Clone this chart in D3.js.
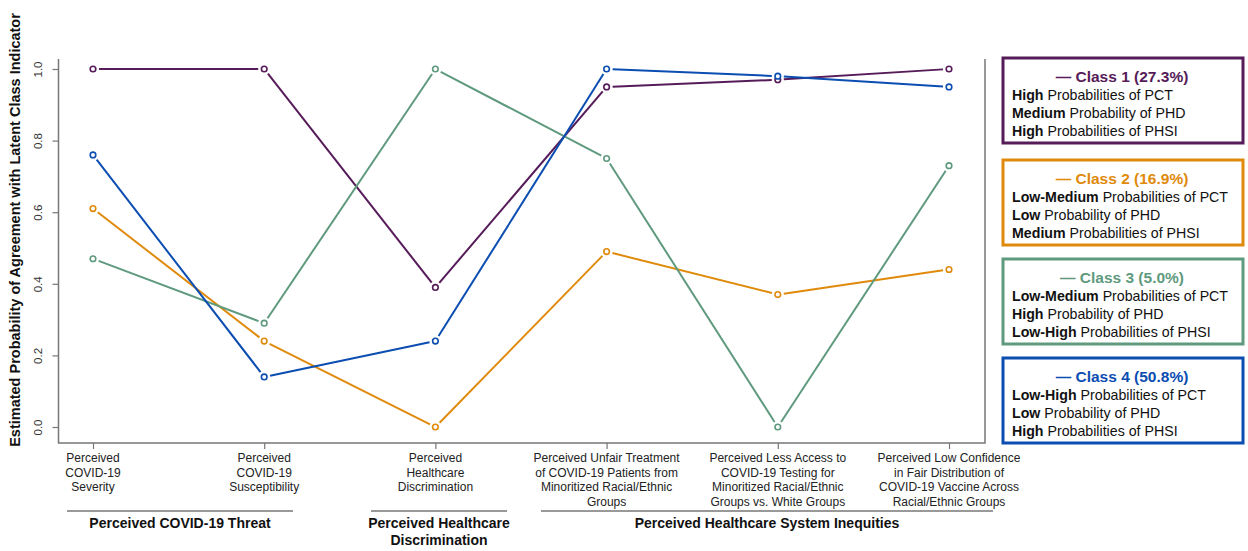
<!DOCTYPE html>
<html>
<head>
<meta charset="utf-8">
<script src="https://cdn.jsdelivr.net/npm/d3@7"></script>
<style>
  body { margin: 0; background: #fff; }
  svg { font-family: "Liberation Sans", Arial, sans-serif; }
</style>
</head>
<body>
<svg width="1248" height="551"></svg>
<script>
// indicators along the x axis (each label split into lines)
const indicators = [
    ['Perceived', 'COVID-19', 'Severity'],
    ['Perceived', 'COVID-19', 'Susceptibility'],
    ['Perceived', 'Healthcare', 'Discrimination'],
    ['Perceived Unfair Treatment', 'of COVID-19 Patients from', 'Minoritized Racial/Ethnic', 'Groups'],
    ['Perceived Less Access to', 'COVID-19 Testing for', 'Minoritized Racial/Ethnic', 'Groups vs. White Groups'],
    ['Perceived Low Confidence', 'in Fair Distribution of', 'COVID-19 Vaccine Across', 'Racial/Ethnic Groups']
];

const class1 = [1.00, 1.00, 0.39, 0.95, 0.97, 1.00];
const class2 = [0.61, 0.24, 0.00, 0.49, 0.37, 0.44];
const class3 = [0.47, 0.29, 1.00, 0.75, 0.00, 0.73];
const class4 = [0.76, 0.14, 0.24, 1.00, 0.98, 0.95];

const classNames = ['Class 1 (27.3%)', 'Class 2 (16.9%)', 'Class 3 (5.0%)', 'Class 4 (50.8%)'];
const classColors = ['#561b59', '#e08a0c', '#5f9a7e', '#0b4db1'];

// legend text: [bold part, normal part]
const legendLines = [
    [['High', ' Probabilities of PCT'], ['Medium', ' Probability of PHD'], ['High', ' Probabilities of PHSI']],
    [['Low-Medium', ' Probabilities of PCT'], ['Low', ' Probability of PHD'], ['Medium', ' Probabilities of PHSI']],
    [['Low-Medium', ' Probabilities of PCT'], ['High', ' Probability of PHD'], ['Low-High', ' Probabilities of PHSI']],
    [['Low-High', ' Probabilities of PCT'], ['Low', ' Probability of PHD'], ['High', ' Probabilities of PHSI']]
];

// indicator groups under the axis
const groups = [
    { name: ['Perceived COVID-19 Threat'], x0: 67, x1: 293 },
    { name: ['Perceived Healthcare', 'Discrimination'], x0: 371, x1: 507 },
    { name: ['Perceived Healthcare System Inequities'], x0: 541, x1: 993 }
];

const yTicks = [0, 0.2, 0.4, 0.6, 0.8, 1.0];

const svg = d3.select('svg');
const series = [class1, class2, class3, class4];

const frame = { left: 58.5, right: 985, top: 59, bottom: 443 };

const x = d3.scalePoint()
    .domain(d3.range(indicators.length))
    .range([93, 949]);

const y = d3.scaleLinear()
    .domain([0, 1])
    .range([427, 69]);

const axisColor = '#777';

// frame: left, bottom, right (no top)
svg.append('path')
    .attr('d', `M${frame.left},${frame.top}V${frame.bottom}H${frame.right}V${frame.top}`)
    .attr('fill', 'none')
    .attr('stroke', axisColor)
    .attr('stroke-width', 1.5);

// y axis ticks
const yAxis = svg.append('g')
    .attr('transform', `translate(${frame.left},0)`)
    .call(d3.axisLeft(y).tickValues(yTicks).tickFormat(d3.format('.1f')).tickSize(6));
yAxis.select('.domain').remove();
yAxis.selectAll('line').attr('stroke', axisColor).attr('stroke-width', 1.2);
yAxis.selectAll('text')
    .attr('x', 0).attr('y', 0).attr('dy', '0.35em')
    .attr('transform', 'translate(-21,0) rotate(-90)')
    .style('text-anchor', 'middle')
    .style('font-size', '11.5px')
    .style('font-family', '"Liberation Sans", Arial, sans-serif')
    .attr('fill', '#333');

// y title
svg.append('text')
    .attr('transform', 'translate(20,230) rotate(-90)')
    .attr('text-anchor', 'middle')
    .style('font-size', '14.5px')
    .style('font-weight', 'bold')
    .attr('fill', '#111')
    .text('Estimated Probability of Agreement with Latent Class Indicator');

// x axis ticks
const xAxis = svg.append('g')
    .attr('transform', `translate(0,${frame.bottom})`)
    .call(d3.axisBottom(x).tickSize(6).tickFormat(''));
xAxis.select('.domain').remove();
xAxis.selectAll('line').attr('stroke', axisColor).attr('stroke-width', 1.2);

// x tick labels, multi-line
indicators.forEach((lines, i) => {
    const t = svg.append('text')
        .attr('text-anchor', 'middle')
        .style('font-size', '12px')
        .attr('fill', '#222');
    lines.forEach((ln, j) => {
        t.append('tspan')
            .attr('x', x(i))
            .attr('y', 462 + j * 14.7)
            .text(ln);
    });
});

// group brackets
groups.forEach(g => {
    svg.append('line')
        .attr('x1', g.x0).attr('x2', g.x1)
        .attr('y1', 511).attr('y2', 511)
        .attr('stroke', '#999').attr('stroke-width', 2);
    const t = svg.append('text')
        .attr('text-anchor', 'middle')
        .style('font-size', '14px')
        .style('font-weight', 'bold')
        .attr('fill', '#111');
    g.name.forEach((ln, j) => {
        t.append('tspan')
            .attr('x', (g.x0 + g.x1) / 2)
            .attr('y', 528 + j * 17)
            .text(ln);
    });
});

// series: segments with small gaps near markers, open circle markers
const gap = 6;
series.forEach((vals, k) => {
    const pts = vals.map((v, i) => [x(i), y(v)]);
    const g = svg.append('g');
    d3.pairs(pts).forEach(([a, b]) => {
        const dx = b[0] - a[0], dy = b[1] - a[1];
        const len = Math.hypot(dx, dy);
        const ux = dx / len, uy = dy / len;
        g.append('line')
            .attr('x1', a[0] + ux * gap).attr('y1', a[1] + uy * gap)
            .attr('x2', b[0] - ux * gap).attr('y2', b[1] - uy * gap)
            .attr('stroke', classColors[k])
            .attr('stroke-width', 2);
    });
    g.selectAll('circle').data(pts)
        .enter().append('circle')
            .attr('cx', d => d[0])
            .attr('cy', d => d[1])
            .attr('r', 2.8)
            .attr('fill', '#fff')
            .attr('stroke', classColors[k])
            .attr('stroke-width', 1.6);
});

// legend boxes
const boxTop = [58, 160, 259, 358];
legendLines.forEach((lines, k) => {
    const g = svg.append('g').attr('transform', `translate(1003,${boxTop[k]})`);
    g.append('rect')
        .attr('width', 240).attr('height', 85)
        .attr('fill', '#fff')
        .attr('stroke', classColors[k])
        .attr('stroke-width', 3);
    g.append('text')
        .attr('x', 119).attr('y', 24)
        .attr('text-anchor', 'middle')
        .style('font-size', '15.5px')
        .style('font-weight', 'bold')
        .attr('fill', classColors[k])
        .text('\u2014 ' + classNames[k]);
    lines.forEach(([b, rest], j) => {
        const t = g.append('text')
            .attr('x', 9).attr('y', 42 + j * 18)
            .style('font-size', '14.2px')
            .attr('fill', '#111');
        t.append('tspan').style('font-weight', 'bold').text(b);
        t.append('tspan').text(rest);
    });
});
</script>
</body>
</html>
